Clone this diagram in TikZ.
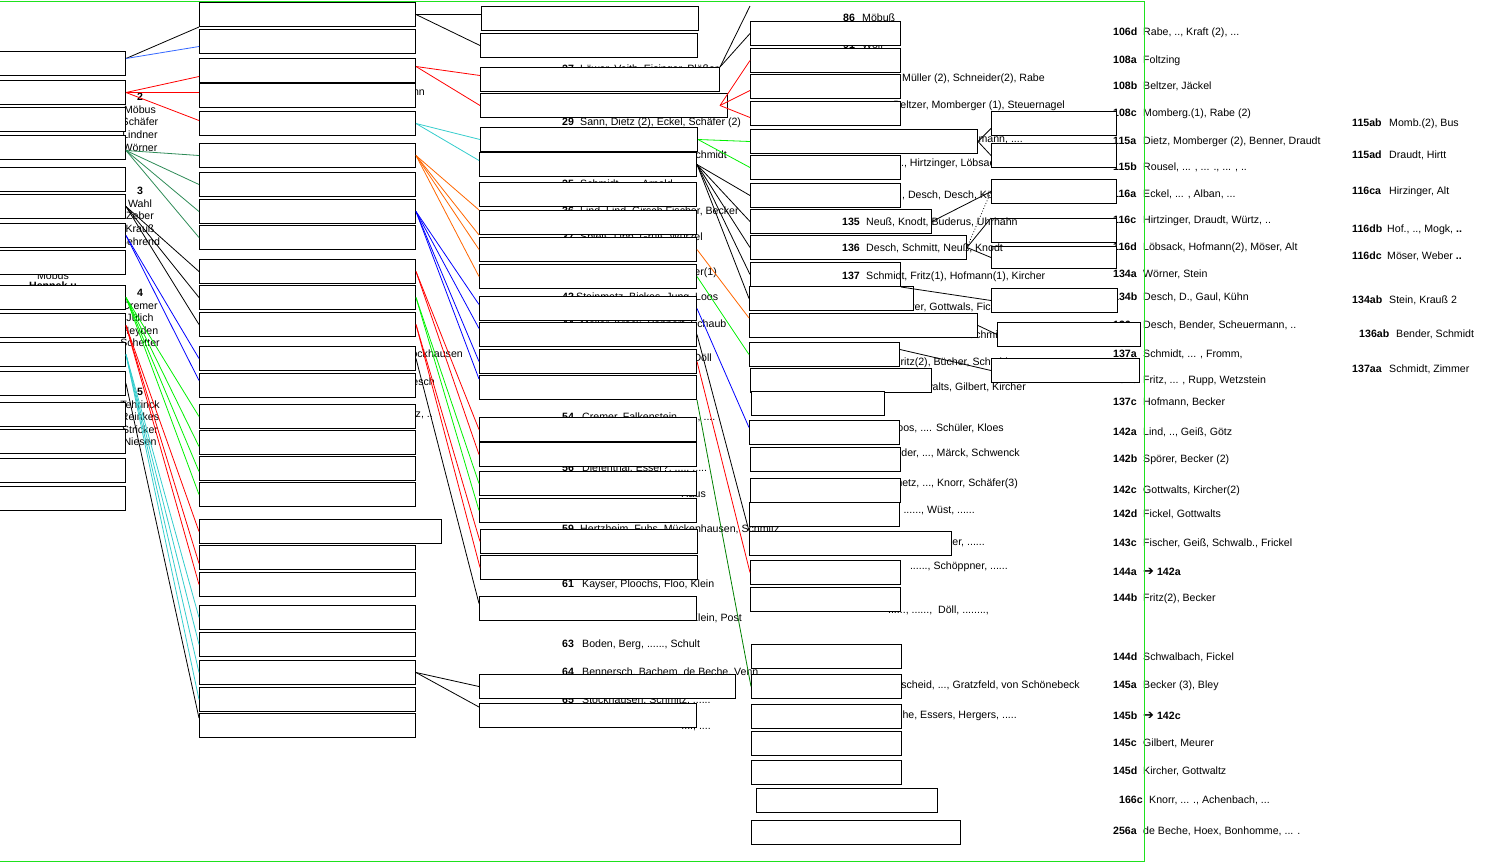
\documentclass[tikz,border=0pt]{standalone}
\usepackage{fontspec}
\setmainfont{Liberation Sans}
\newfontfamily\arrowfont{DejaVu Sans}
\newcommand{\parcel}[2][30pt]{\makebox[#1][l]{\textbf{#2}}}
\definecolor{lnlight}{RGB}{51,102,255}
\definecolor{lnteal}{RGB}{46,139,87}
\definecolor{lncyan}{RGB}{51,204,204}
\definecolor{lnorange}{RGB}{255,102,0}
\definecolor{lngreen}{RGB}{0,240,0}
\definecolor{lndark}{RGB}{0,128,0}
\definecolor{framegreen}{RGB}{30,225,30}

\begin{document}
\begin{tikzpicture}[x=1pt, y=-1pt, font=\fontsize{10.6}{12.6}\selectfont,
  box/.style={draw, fill=white, line width=1pt, inner sep=0pt, anchor=north west, minimum height=24pt},
  boxa/.style={box, minimum width=129pt},
  boxb/.style={box, minimum width=216pt},
  boxc/.style={box, minimum width=217pt},
  boxd/.style={box, minimum width=150pt},
  boxe/.style={box, minimum width=125pt},
  lbl/.style={inner sep=0pt, anchor=base west},
  lble/.style={inner sep=0pt, anchor=base east},
  grp/.style={inner sep=0pt, anchor=north, align=center},
  ln/.style={line width=0.8pt}]
\useasboundingbox (0,0) rectangle (1500,863);

\node [grp] (g2) at (140,93) {\textbf{2}\\Möbus\\Schäfer\\Lindner\\Wörner};
\node [grp] (g3) at (140,187) {\textbf{3}\\Wahl\\Zeber\\Krauß\\Behrend};
\node [grp] (g4) at (140,289) {\textbf{4}\\Cremer\\Jülich\\Heyden\\Schetter};
\node [grp] (g5) at (140,388) {\textbf{5}\\Tehrinck\\Reinkes\\Stricker\\Niesen};
\node [inner sep=0pt, anchor=base] (moebus) at (53,279) {Möbus};
\node [inner sep=0pt, anchor=base] (hennek) at (53,289) {\textbf{Hennek u}};

\node [lble] (f1) at (425,95) {Uhrmann};
\node [lble] (f2) at (463,357) {Stockhausen};
\node [lble] (f3) at (435,385) {Desch};
\node [lble] (f4) at (433,417) {Schmitz, ..};

\node [lbl] (t27) at (562,72) {\parcel[18pt]{27}Löwer, Veith, Eisinger, Plößer};
\node [lbl] (t29) at (562,125) {\parcel[18pt]{29}Sann, Dietz (2), Eckel, Schäfer (2)};
\node [lble] (f5) at (727,158) {Schmidt};
\node [lbl] (t35) at (562,187) {\parcel[18pt]{35}Schmidt, ...., Arnold, ....};
\node [lbl] (t36) at (562,214) {\parcel[18pt]{36}Lind, Lind, Girsch Fischer, Becker};
\node [lbl] (t37) at (562,240) {\parcel[18pt]{37}Spieß, Lipp, Gruß, Würzel};
\node [lble] (f6) at (717,275) {er(1)};
\node [lbl] (t42) at (562,300) {\parcel[14pt]{42}Steinmetz, Bickes, Jung, Loos};
\node [lbl] (t44) at (562,327) {\parcel[18pt]{44}Moller, Krack, Pappert, Schaub};
\node [lble] (f7) at (712,361) {Döll};
\node [lbl] (t54) at (562,420) {\parcel[20pt]{54}Cremer, Falkenstein, ....., ....};
\node [lbl] (t56) at (562,471) {\parcel[20pt]{56}Diefenthal, Esser?, ...., .....};
\node [lble] (f8) at (706,497) {Haus};
\node [lbl] (t59) at (562,532) {\parcel[18pt]{59}Hertzheim, Fuhs, Mückenhausen, Schmitz};
\node [lbl] (t61) at (562,587) {\parcel[20pt]{61}Kayser, Ploochs, Floo, Klein};
\node [lble] (f9) at (742,621) {Klein, Post};
\node [lbl] (t63) at (562,647) {\parcel[20pt]{63}Boden, Berg, ......, Schult};
\node [lbl] (t64) at (562,675) {\parcel[20pt]{64}Bennersch, Bachem, de Beche, Venn};
\node [lbl] (t65) at (562,703) {\parcel[20pt]{65}Stockhausen, Schmitz, ......};
\node [lble] (f10) at (711,729) {...., ....};

\node [lbl] (t86) at (843,21) {\parcel[19pt]{86}Möbuß};
\node [lbl] (t91) at (843,48) {\parcel[19pt]{91}Wolf};
\node [lble] (f11) at (1045,81) {Müller (2), Schneider(2), Rabe};
\node [lble] (f12) at (1065,108) {Beltzer, Momberger (1), Steuernagel};
\node [lble] (f13) at (1023,142) {mann, ....};
\node [lbl] (f14) at (898,166) {.., Hirtzinger, Löbsack};
\node [lbl] (f15) at (902,198) {, Desch, Desch, Köhler};
\node [lbl] (f16) at (911,310) {rer, Gottwals, Fickel};
\node [lbl] (f17) at (968,338) {Schmied};
\node [lbl] (f18) at (894,365) {Fritz(2), Bücher, Schmidt};
\node [lble] (f19) at (1026,390) {Gottwalts, Gilbert, Kircher};
\node [lble] (f20) at (1004,431) {Loos, .... Schüler, Kloes};
\node [lble] (f21) at (1020,456) {Schneider, ..., Märck, Schwenck};
\node [lble] (f22) at (1018,486) {Steinmetz, ..., Knorr, Schäfer(3)};
\node [lble] (f23) at (975,513) {......, Wüst, ......};
\node [lble] (f24) at (985,545) {Becker, ......};
\node [lble] (f25) at (1008,569) {......, Schöppner, ......};
\node [lble] (f26) at (989,613) {......, ......,\ \ Döll, ........,};
\node [lble] (f27) at (1080,688) {Dürscheid, ..., Gratzfeld, von Schönebeck};
\node [lble] (f28) at (1017,718) {de Beche, Essers, Hergers, .....};

\node [lbl] (p106d) at (1113,35) {\parcel{106d}Rabe, .., Kraft (2), ...};
\node [lbl] (p108a) at (1113,63) {\parcel{108a}Foltzing};
\node [lbl] (p108b) at (1113,89) {\parcel{108b}Beltzer, Jäckel};
\node [lbl] (p108c) at (1113,116) {\parcel{108c}Momberg.(1), Rabe (2)};
\node [lbl] (p115a) at (1113,144) {\parcel{115a}Dietz, Momberger (2), Benner, Draudt};
\node [lbl] (p115b) at (1113,170) {\parcel{115b}Rousel, ... , ... ., ... , ..};
\node [lbl] (p116a) at (1113,197) {\parcel{116a}Eckel, ... , Alban, ...};
\node [lbl] (p116c) at (1113,223) {\parcel{116c}Hirtzinger, Draudt, Würtz, ..};
\node [lbl] (p116d) at (1113,250) {\parcel{116d}Löbsack, Hofmann(2), Möser, Alt};
\node [lbl] (p134a) at (1113,277) {\parcel{134a}Wörner, Stein};
\node [lbl] (p134b) at (1113,300) {\parcel{134b}Desch, D., Gaul, Kühn};
\node [lbl] (p136a) at (1113,328) {\parcel{136a}Desch, Bender, Scheuermann, ..};
\node [lbl] (p137a) at (1113,357) {\parcel{137a}Schmidt, ... , Fromm,};
\node [lbl] (p137b) at (1113,383) {\parcel{137b}Fritz, ... , Rupp, Wetzstein};
\node [lbl] (p137c) at (1113,405) {\parcel{137c}Hofmann, Becker};
\node [lbl] (p142a) at (1113,435) {\parcel{142a}Lind, .., Geiß, Götz};
\node [lbl] (p142b) at (1113,462) {\parcel{142b}Spörer, Becker (2)};
\node [lbl] (p142c) at (1113,493) {\parcel{142c}Gottwalts, Kircher(2)};
\node [lbl] (p142d) at (1113,517) {\parcel{142d}Fickel, Gottwalts};
\node [lbl] (p143c) at (1113,546) {\parcel{143c}Fischer, Geiß, Schwalb., Frickel};
\node [lbl] (p144a) at (1113,575) {\parcel{144a}{\arrowfont\fontsize{13}{13}\selectfont ➔}\hspace{3pt}\textbf{142a}};
\node [lbl] (p144b) at (1113,601) {\parcel{144b}Fritz(2), Becker};
\node [lbl] (p144d) at (1113,660) {\parcel{144d}Schwalbach, Fickel};
\node [lbl] (p145a) at (1113,688) {\parcel{145a}Becker (3), Bley};
\node [lbl] (p145b) at (1113,719) {\parcel{145b}{\arrowfont\fontsize{13}{13}\selectfont ➔}\hspace{3pt}\textbf{142c}};
\node [lbl] (p145c) at (1113,746) {\parcel{145c}Gilbert, Meurer};
\node [lbl] (p145d) at (1113,774) {\parcel{145d}Kircher, Gottwaltz};
\node [lbl] (p166c) at (1119,803) {\parcel{166c}Knorr, ... ., Achenbach, ...};
\node [lbl] (p256a) at (1113,834) {\parcel{256a}de Beche, Hoex, Bonhomme, ... .};

\node [lbl] (p115ab) at (1352,126) {\parcel[37pt]{115ab}Momb.(2), Bus};
\node [lbl] (p115ad) at (1352,158) {\parcel[37pt]{115ad}Draudt, Hirtt};
\node [lbl] (p116ca) at (1352,194) {\parcel[37pt]{116ca}Hirzinger, Alt};
\node [lbl] (p116db) at (1352,232) {\parcel[35pt]{116db}Hof., .., Mogk, \textbf{..}};
\node [lbl] (p116dc) at (1352,259) {\parcel[35pt]{116dc}Möser, Weber \textbf{..}};
\node [lbl] (p134ab) at (1352,303) {\parcel[37pt]{134ab}Stein, Krauß 2};
\node [lbl] (p136ab) at (1359,337) {\parcel[37pt]{136ab}Bender, Schmidt};
\node [lbl] (p137aa) at (1352,372) {\parcel[37pt]{137aa}Schmidt, Zimmer};

\node [boxa] (a1) at (-4,51) {};
\node [boxa] (a2) at (-4,80) {};
\node [boxa] (a3) at (-4,107) {};
\node [boxa] (a4) at (-4,135) {};
\node [boxa] (a5) at (-4,167) {};
\node [boxa] (a6) at (-4,194) {};
\node [boxa] (a7) at (-4,223) {};
\node [boxa] (a8) at (-4,250) {};
\node [boxa] (a9) at (-4,285) {};
\node [boxa] (a10) at (-4,313) {};
\node [boxa] (a11) at (-4,342) {};
\node [boxa] (a12) at (-4,371) {};
\node [boxa] (a13) at (-4,402) {};
\node [boxa] (a14) at (-4,429) {};
\node [boxa] (a15) at (-4,458) {};
\node [boxa] (a16) at (-4,486) {};

\node [boxb] (b1) at (199,2) {};
\node [boxb] (b2) at (199,29) {};
\node [boxb] (b3) at (199,58) {};
\node [boxb] (b4) at (199,83) {};
\node [boxb] (b5) at (199,111) {};
\node [boxb] (b6) at (199,143) {};
\node [boxb] (b7) at (199,172) {};
\node [boxb] (b8) at (199,199) {};
\node [boxb] (b9) at (199,225) {};
\node [boxb] (b10) at (199,259) {};
\node [boxb] (b11) at (199,285) {};
\node [boxb] (b12) at (199,312) {};
\node [boxb] (b13) at (199,346) {};
\node [boxb] (b14) at (199,373) {};
\node [boxb] (b15) at (199,404) {};
\node [boxb] (b16) at (199,430) {};
\node [boxb] (b17) at (199,456) {};
\node [boxb] (b18) at (199,482) {};
\node [boxb, minimum width=242pt] (b19) at (199,519) {};
\node [boxb] (b20) at (199,545) {};
\node [boxb] (b21) at (199,572) {};
\node [boxb] (b22) at (199,605) {};
\node [boxb] (b23) at (199,632) {};
\node [boxb] (b24) at (199,660) {};
\node [boxb] (b25) at (199,687) {};
\node [boxb] (b26) at (199,713) {};

\node [boxc] (c1) at (481,6) {};
\node [boxc] (c2) at (480,33) {};
\node [boxc, minimum width=239pt] (c3) at (480,67) {};
\node [boxc, minimum width=247pt] (c4) at (480,93) {};
\node [boxc] (c5) at (480,127) {};
\node [boxc] (c6) at (479,152) {};
\node [boxc] (c7) at (479,182) {};
\node [boxc] (c8) at (479,210) {};
\node [boxc] (c9) at (479,237) {};
\node [boxc] (c10) at (479,264) {};
\node [boxc] (c11) at (479,296) {};
\node [boxc] (c12) at (479,322) {};
\node [boxc] (c13) at (479,349) {};
\node [boxc] (c14) at (479,375) {};
\node [boxc] (c15) at (479,417) {};
\node [boxc] (c16) at (479,442) {};
\node [boxc] (c17) at (479,471) {};
\node [boxc] (c18) at (479,498) {};
\node [boxc] (c19) at (480,529) {};
\node [boxc] (c20) at (480,555) {};
\node [boxc] (c21) at (479,596) {};
\node [boxc, minimum width=256pt] (c22) at (479,674) {};
\node [boxc] (c23) at (479,703) {};

\node [boxd] (d1) at (750,21) {};
\node [boxd] (d2) at (750,48) {};
\node [boxd] (d3) at (750,74) {};
\node [boxd] (d4) at (750,101) {};
\node [boxd, minimum width=227pt] (d5) at (750,129) {};
\node [boxd] (d6) at (750,155) {};
\node [boxd] (d7) at (750,183) {};
\node [boxd, minimum width=181pt] (d8) at (750,209) {};
\node [boxd, minimum width=216pt] (d9) at (750,235) {};
\node [boxd] (d10) at (750,262) {};
\node [boxd, minimum width=164pt] (d11) at (749,286) {};
\node [boxd, minimum width=228pt] (d12) at (749,313) {};
\node [boxd] (d13) at (749,342) {};
\node [boxd, minimum width=181pt] (d14) at (750,368) {};
\node [boxd, minimum width=133pt] (d15) at (751,391) {};
\node [boxd] (d16) at (749,420) {};
\node [boxd] (d17) at (750,447) {};
\node [boxd] (d18) at (750,478) {};
\node [boxd] (d19) at (749,502) {};
\node [boxd, minimum width=202pt] (d20) at (749,531) {};
\node [boxd] (d21) at (750,560) {};
\node [boxd] (d22) at (750,587) {};
\node [boxd] (d23) at (751,644) {};
\node [boxd] (d24) at (751,674) {};
\node [boxd] (d25) at (751,704) {};
\node [boxd] (d26) at (751,731) {};
\node [boxd] (d27) at (751,760) {};
\node [boxd, minimum width=181pt] (d28) at (756,788) {};
\node [boxd, minimum width=209pt] (d29) at (751,820) {};

\node [boxe] (e1) at (991,111) {};
\node [boxe] (e2) at (991,143) {};
\node [boxe] (e3) at (991,179) {};
\node [boxe] (e4) at (991,218) {};
\node [boxe, minimum height=22pt] (e5) at (991,246) {};
\node [boxe, minimum width=126pt] (e6) at (991,288) {};
\node [boxe, minimum width=143pt] (e7) at (997,322) {};
\node [boxe, minimum width=148pt] (e8) at (991,358) {};

\draw [ln] ([yshift=5pt]a1.east) -- (b1.south west);
\draw [ln, lnlight] ([yshift=5pt]a1.east) -- ([yshift=-5pt]b2.west);
\draw [ln, red] (a2.east) -- ([yshift=-6pt]b3.west);
\draw [ln, red] (a2.east) -- ([yshift=3pt]b4.west);
\draw [ln, red] (a2.east) -- ([yshift=3pt]b5.west);
\draw [ln, lnteal] ([yshift=-3pt]a4.east) -- (b6.west);
\draw [ln, lnteal] ([yshift=-3pt]a4.east) -- (b7.west);
\draw [ln, lnteal] ([yshift=-3pt]a4.east) -- (b8.west);
\draw [ln, lnteal] ([yshift=-3pt]a4.east) -- (b9.west);
\draw [ln] (a6.east) -- (b10.west);
\draw [ln] (a6.east) -- (b11.west);
\draw [ln] (a6.east) -- (b12.west);
\draw [ln, blue] (a7.east) -- (b13.west);
\draw [ln, blue] (a7.east) -- ([yshift=5pt]b14.west);
\draw [ln, lngreen] (a9.east) -- (b15.west);
\draw [ln, lngreen] (a9.east) -- ([yshift=-4pt]b16.west);
\draw [ln, lngreen] (a9.east) -- ([yshift=-3pt]b17.west);
\draw [ln, lngreen] (a9.east) -- (b18.west);
\draw [ln, red] (a10.east) -- (b19.west);
\draw [ln, red] (a10.east) -- ([yshift=-6pt]b20.west);
\draw [ln, red] (a10.east) -- (b21.west);
\draw [ln, lncyan] (a11.east) -- (b22.west);
\draw [ln, lncyan] (a11.east) -- (b23.west);
\draw [ln, lncyan] (a11.east) -- (b24.west);
\draw [ln, lncyan] (a11.east) -- (b25.west);
\draw [ln] (a12.east) -- ([yshift=-5pt]b26.north west);

\draw [ln] (b1.east) -- ([yshift=4pt]c1.west);
\draw [ln] (b1.east) -- (c2.west);
\draw [ln, red] ([yshift=4pt]b3.east) -- ([yshift=4pt]c3.west);
\draw [ln, red] ([yshift=4pt]b3.east) -- (c4.west);
\draw [ln, lncyan] (b5.east) -- (c5.west);
\draw [ln, lncyan] (b5.east) -- ([yshift=4pt]c6.west);
\draw [ln, lnorange] (b6.east) -- (c8.north west);
\draw [ln, lnorange] (b6.east) -- (c8.south west);
\draw [ln, lnorange] (b6.east) -- (c9.west);
\draw [ln, lnorange] (b6.east) -- (c10.west);
\draw [ln, blue] (b8.east) -- ([yshift=4pt]c11.west);
\draw [ln, blue] (b8.east) -- ([yshift=6pt]c12.west);
\draw [ln, blue] (b8.east) -- (c13.west);
\draw [ln, blue] (b8.east) -- ([yshift=-4pt]c14.north west);
\draw [ln, red] (b10.east) -- (c15.west);
\draw [ln, red] (b10.east) -- (c16.west);
\draw [ln, lngreen] (b11.east) -- (c17.west);
\draw [ln, lngreen] (b11.east) -- (c18.west);
\draw [ln, red] (b12.east) -- (c19.west);
\draw [ln, red] (b12.east) -- (c20.west);
\draw [ln] (b13.east) -- ([yshift=5pt]c21.west);
\draw [ln] (b24.east) -- (c22.west);
\draw [ln] (b24.east) -- ([yshift=-4pt]c23.north west);

\coordinate (topend) at (750,6);
\draw [ln] (c3.north east) -- (topend);
\draw [ln] (c3.north east) -- (d1.west);
\draw [ln, red] ([xshift=-8pt]c4.east) -- (d2.west);
\draw [ln, red] ([xshift=-8pt]c4.east) -- ([yshift=-4pt]d3.west);
\draw [ln, red] ([xshift=-8pt]c4.east) -- ([yshift=-4pt]d4.west);
\draw [ln, lngreen] (c5.east) -- (d5.west);
\draw [ln, lngreen] (c5.east) -- (d6.west);
\draw [ln] (c6.east) -- (d7.west);
\draw [ln] (c6.east) -- (d8.west);
\draw [ln] (c6.east) -- (d9.west);
\draw [ln] (c6.east) -- (d10.west);
\draw [ln] (c6.east) -- (d11.west);
\draw [ln, lnorange] (c9.east) -- ([yshift=-5pt]d12.north west);
\draw [ln, lngreen] (c10.east) -- (d13.west);
\draw [ln, blue] (c11.east) -- ([yshift=5pt]d16.west);
\draw [ln] (c12.east) -- (d20.north west);
\draw [ln, red] (c13.east) -- (d21.west);
\draw [ln, lndark] (c14.south east) -- (d24.west);

\draw [ln] (d5.east) -- ([yshift=-5pt]e1.west);
\draw [ln] (d5.east) -- (e2.west);
\draw [ln] (d8.east) -- (e3.west);
\draw [ln, dotted] (d9.east) -- (e3.west);
\draw [ln] (d9.east) -- (e4.north west);
\draw [ln] (d9.east) -- (e5.west);
\draw [ln] (d10.south east) -- (e6.west);
\draw [ln] (d12.east) -- (e7.west);
\draw [ln] ([yshift=5pt]d13.east) -- (e8.west);

\node [lbl] (t135) at (842,225) {\parcel[24pt]{135}Neuß, Knodt, Buderus, Uhrhahn};
\node [lbl] (t136) at (842,251) {\parcel[24pt]{136}Desch, Schmitt, Neuß, Knodt};
\node [lbl] (t137) at (842,279) {\parcel[24pt]{137}Schmidt, Fritz(1), Hofmann(1), Kircher};

\draw [framegreen, line width=1pt] (0,1) -- (1144,1) -- (1144,861) -- (0,861);
\end{tikzpicture}
\end{document}
